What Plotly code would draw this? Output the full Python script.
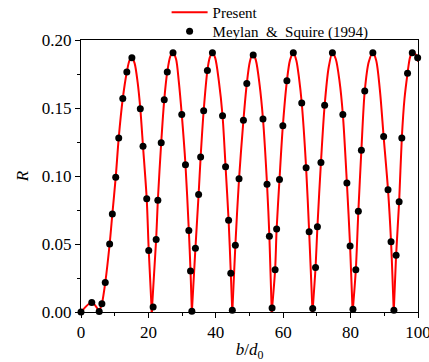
import plotly.graph_objects as go

# Meylan & Squire (1994) data points
ms_x = [0, 3.2, 5.4, 6.2, 7.2, 8.5, 9.3, 10.3, 11.2, 12.4, 13.6, 15.1, 17.6, 18.4, 19.5, 20.1,
        21.4, 22.3, 22.8, 23.8, 24.7, 25.6, 27.3, 29.9, 31.0, 32.0, 32.5, 32.9, 33.95, 34.9, 35.5,
        36.4, 37.5, 39.0, 42.0, 42.9, 43.8, 44.45, 44.9, 45.8, 46.9, 48.2, 49.2, 51.1, 54.0, 55.2,
        55.9, 56.7, 57.6, 58.05, 58.9, 59.9, 61.1, 63.0, 65.5, 66.8, 67.7, 68.75, 69.6, 70.15, 71.2,
        72.3, 74.6, 77.7, 78.9, 79.85, 80.7, 81.55, 82.3, 83.2, 84.2, 86.6, 89.8, 91.1, 92.0, 92.85,
        93.5, 94.4, 95.2, 96.9, 98.3, 99.9]
ms_y = [0.0, 0.0069, 0.0003, 0.006, 0.0216, 0.050, 0.072, 0.099, 0.128, 0.157, 0.1765, 0.187, 0.1495,
        0.1218, 0.0832, 0.0452, 0.0037, 0.0533, 0.0822, 0.1245, 0.156, 0.1765, 0.1907, 0.1453, 0.1083,
        0.0599, 0.0302, 0.0005, 0.0468, 0.0864, 0.114, 0.148, 0.1775, 0.1907, 0.1443, 0.1068, 0.0675,
        0.0285, 0.0013, 0.049, 0.098, 0.141, 0.168, 0.189, 0.1419, 0.094, 0.0557, 0.003, 0.031, 0.061,
        0.0975, 0.137, 0.170, 0.1907, 0.1537, 0.106, 0.059, 0.0025, 0.0327, 0.0626, 0.110, 0.152,
        0.1907, 0.1453, 0.0948, 0.0486, 0.002, 0.031, 0.074, 0.119, 0.1625, 0.1907, 0.129, 0.0899,
        0.0517, 0.0013, 0.0417, 0.081, 0.128, 0.1755, 0.1907, 0.187]

# Present results, read as arches between zeros
present_arches_x = [
    [0, 3.2, 5.4],
    [5.4, 6.2, 7.2, 8.5, 9.3, 10.3, 11.2, 12.4, 13.6, 14.4, 15.1, 15.9, 16.8, 17.6, 18.4, 19.5, 20.1, 21.0],
    [21.0, 22.3, 22.8, 23.8, 24.7, 25.6, 26.5, 27.3, 28.2, 29.0, 29.9, 31.0, 32.0, 32.5, 32.9],
    [32.9, 33.95, 34.9, 35.5, 36.4, 37.5, 38.2, 39.0, 39.8, 40.9, 42.0, 42.9, 43.8, 44.45, 44.9],
    [44.9, 45.8, 46.9, 48.2, 49.2, 50.1, 51.0, 51.9, 53.0, 54.0, 55.2, 55.9, 56.6],
    [56.6, 57.6, 58.05, 58.9, 59.9, 61.1, 62.0, 63.0, 63.9, 64.7, 65.5, 66.8, 67.7, 68.7],
    [68.7, 69.6, 70.15, 71.2, 72.3, 73.5, 74.6, 75.6, 76.7, 77.7, 78.9, 79.85, 80.6],
    [80.6, 81.55, 82.3, 83.2, 84.2, 85.4, 86.6, 87.6, 88.7, 89.8, 91.1, 92.0, 92.8],
    [92.8, 93.5, 94.4, 95.2, 96.0, 96.9, 97.6, 98.3, 99.0, 99.9, 100.0],
]
present_arches_y = [
    [0.0, 0.0069, 0.0003],
    [0.0003, 0.006, 0.0216, 0.050, 0.072, 0.099, 0.128, 0.157, 0.1765, 0.185, 0.187, 0.183, 0.169, 0.1495, 0.1218, 0.0832, 0.0452, 0.0],
    [0.0, 0.0533, 0.0822, 0.1245, 0.156, 0.1765, 0.188, 0.1907, 0.186, 0.170, 0.1453, 0.1083, 0.0599, 0.0302, 0.0],
    [0.0, 0.0468, 0.0864, 0.114, 0.148, 0.1775, 0.187, 0.1907, 0.187, 0.170, 0.1443, 0.1068, 0.0675, 0.0285, 0.0],
    [0.0, 0.049, 0.098, 0.141, 0.168, 0.184, 0.190, 0.185, 0.167, 0.1419, 0.094, 0.0557, 0.0],
    [0.0, 0.031, 0.061, 0.0975, 0.137, 0.170, 0.185, 0.1907, 0.185, 0.172, 0.1537, 0.106, 0.059, 0.0],
    [0.0, 0.0327, 0.0626, 0.110, 0.152, 0.180, 0.1907, 0.186, 0.170, 0.1453, 0.0948, 0.0486, 0.0],
    [0.0, 0.031, 0.074, 0.119, 0.1625, 0.184, 0.1907, 0.185, 0.163, 0.129, 0.0899, 0.0517, 0.0],
    [0.0, 0.0417, 0.081, 0.128, 0.157, 0.1755, 0.187, 0.191, 0.190, 0.187, 0.184],
]

x_ticks = [0, 20, 40, 60, 80, 100]
y_ticks = [0.00, 0.05, 0.10, 0.15, 0.20]

curve_x, curve_y = [], []
for ax_, ay_ in zip(present_arches_x, present_arches_y):
    curve_x += ax_ + [None]
    curve_y += ay_ + [None]

FONT = "Liberation Serif, Times New Roman, serif"

fig = go.Figure()
fig.add_trace(go.Scatter(
    x=curve_x, y=curve_y, mode="lines", name="Present",
    line=dict(color="#ff0000", width=2, shape="spline", smoothing=0.8),
    connectgaps=False, cliponaxis=True, legend="legend",
))
fig.add_trace(go.Scatter(
    x=ms_x, y=ms_y, mode="markers", name="Meylan &nbsp;&amp;&nbsp; Squire (1994)",
    marker=dict(color="black", size=7), cliponaxis=False, legend="legend2",
))

leg_common = dict(xanchor="left", yanchor="top", font=dict(family=FONT, size=15, color="black"),
                  bgcolor="rgba(0,0,0,0)", itemwidth=36)

fig.update_layout(
    width=429, height=362,
    margin=dict(l=81, r=11, t=40, b=50, autoexpand=False),
    plot_bgcolor="white", paper_bgcolor="white",
    font=dict(family=FONT, size=17, color="black"),
    showlegend=True,
    legend=dict(x=0.254, y=1.162, **leg_common),
    legend2=dict(x=0.254, y=1.092, **leg_common),
    xaxis=dict(
        range=[0, 100], tickvals=x_ticks, ticks="outside", ticklen=5, tickwidth=1,
        tickcolor="black", showline=True, linecolor="black", linewidth=1, mirror=True,
        showgrid=False, zeroline=False, ticklabeloverflow="allow",
        minor=dict(dtick=10, ticks="outside", ticklen=3, tickcolor="black", showgrid=False),
        title=dict(text="<i>b</i>/<i>d</i><sub>0</sub>", font=dict(family=FONT, size=17), standoff=6),
        tickfont=dict(family=FONT, size=17),
    ),
    yaxis=dict(
        range=[0, 0.20], tickvals=y_ticks, tickformat=".2f", ticks="outside", ticklen=5, tickwidth=1,
        tickcolor="black", showline=True, linecolor="black", linewidth=1, mirror=True,
        showgrid=False, zeroline=False,
        minor=dict(dtick=0.025, ticks="outside", ticklen=3, tickcolor="black", showgrid=False),
        title=dict(text="<i>R</i>", font=dict(family=FONT, size=17), standoff=8),
        tickfont=dict(family=FONT, size=17),
    ),
)

fig.write_html("out.html")
